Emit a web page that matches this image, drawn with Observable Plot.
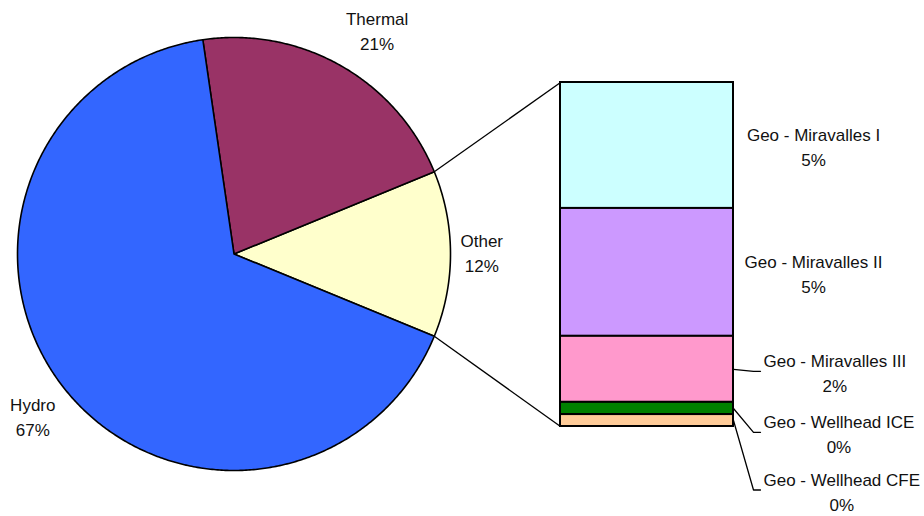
<!DOCTYPE html>
<html><head><meta charset="utf-8">
<script src="https://cdn.jsdelivr.net/npm/d3@7"></script>
<script src="https://cdn.jsdelivr.net/npm/@observablehq/plot@0.6"></script>
<style>html,body{margin:0;padding:0;background:#fff;}</style>
</head><body><div id="chart"></div>
<script>
// ---- data ----
const pieCategories = ["Thermal", "Hydro"];
const pieValues = [21.1, 66.5];
const otherLabel = "Other";
const geoCategories = ["Geo - Miravalles I", "Geo - Miravalles II", "Geo - Miravalles III", "Geo - Wellhead ICE", "Geo - Wellhead CFE"];
const geoValues = [4.54, 4.61, 2.38, 0.44, 0.43];
const pieColors = ["#FFFFCC", "#993366", "#3366FF"]; // Other, Thermal, Hydro
const geoColors = ["#CCFFFF", "#CC99FF", "#FF99CC", "#008000", "#FFCC99"];

// ---- layout ----
const W = 924, H = 516;
const cx = 233.5, cy = 253.5, R = 216.5;
const bar = {x1: 560, x2: 733, top: 82, bottom: 426};
const FONT_SIZE = 17;
const FONT_FAMILY = "'Liberation Sans', Arial, sans-serif";
const LINE_H = 25;

const ctx = document.createElement("canvas").getContext("2d");
ctx.font = `${FONT_SIZE}px ${FONT_FAMILY}`;
const tw = s => ctx.measureText(s).width;
const clamp = v => Math.max(-1, Math.min(1, v));
const rad = a => a * Math.PI / 180;
const px = (a, r) => cx + r * Math.cos(rad(a));
const py = (a, r) => cy - r * Math.sin(rad(a));

// ---- pie slices (counterclockwise from 3 o'clock, Other centred on the right) ----
const otherValue = d3.sum(geoValues);
const slices = [{name: otherLabel, value: otherValue},
  ...pieCategories.map((n, i) => ({name: n, value: pieValues[i]}))]
  .map((d, i) => ({...d, color: pieColors[i]}));
let a = -otherValue / 100 * 180;
for (const s of slices) { s.a0 = a; s.a1 = a + s.value * 3.6; a = s.a1; }

const pieRows = [];
for (const s of slices) {
  pieRows.push({name: s.name, color: s.color, x: cx, y: cy});
  const n = Math.ceil((s.a1 - s.a0) / 0.5);
  for (let k = 0; k <= n; k++) {
    const t = s.a0 + (s.a1 - s.a0) * k / n;
    pieRows.push({name: s.name, color: s.color, x: px(t, R), y: py(t, R)});
  }
}

const pieLabels = slices.map(s => {
  const m = (s.a0 + s.a1) / 2;
  const text = `${s.name}\n${Math.round(s.value)}%`;
  const w = Math.max(tw(s.name), tw(`${Math.round(s.value)}%`));
  const ax = px(m, R + 10), ay = py(m, R + 10);
  return {text,
    x: ax + w / 2 * clamp(2 * Math.cos(rad(m))),
    y: ay - LINE_H * clamp(2 * Math.sin(rad(m))) - 3};
});

// ---- stacked bar ----
const k = (bar.bottom - bar.top) / otherValue;
let yy = bar.top;
const geoRows = geoCategories.map((n, i) => {
  const r = {name: n, value: geoValues[i], color: geoColors[i], x1: bar.x1, x2: bar.x2, y1: yy, y2: yy + geoValues[i] * k};
  yy = r.y2;
  r.mid = (r.y1 + r.y2) / 2;
  return r;
});

const otherSlice = slices[0];
const connectors = [
  {x1: px(otherSlice.a1, R), y1: py(otherSlice.a1, R), x2: bar.x1, y2: bar.top},
  {x1: px(otherSlice.a0, R), y1: py(otherSlice.a0, R), x2: bar.x1, y2: bar.bottom}
];

const geoLabels = [], leaders = [];
let prev = -Infinity;
for (const r of geoRows) {
  const pct = `${Math.round(r.value)}%`;
  const text = `${r.name}\n${pct}`;
  if (r.value >= 3) {
    geoLabels.push({text, x: bar.x2 + 80, y: r.mid});
    prev = r.mid;
  } else {
    const y = Math.min(Math.max(r.mid + 2, prev + 61), H - LINE_H / 2 - 14);
    prev = y;
    const left = bar.x2 + 30;
    geoLabels.push({text, x: left + tw(r.name) / 2, y});
    leaders.push({name: r.name, x: bar.x2, y: r.mid});
    leaders.push({name: r.name, x: bar.x2 + 20, y});
    leaders.push({name: r.name, x: bar.x2 + 27, y});
  }
}

const chart = Plot.plot({
  width: W, height: H,
  marginTop: 0, marginRight: 0, marginBottom: 0, marginLeft: 0,
  x: {domain: [0, W], range: [0, W], axis: null},
  y: {domain: [0, H], range: [0, H], axis: null},
  color: {type: "identity"},
  style: {fontFamily: FONT_FAMILY, fontSize: FONT_SIZE + "px", background: "#fff"},
  marks: [
    Plot.line(pieRows, {x: "x", y: "y", z: "name", fill: "color", stroke: "#000", strokeWidth: 1.6, curve: "linear-closed", strokeLinejoin: "round"}),
    Plot.link(connectors, {x1: "x1", y1: "y1", x2: "x2", y2: "y2", stroke: "#000", strokeWidth: 1.3}),
    Plot.rect(geoRows, {x1: "x1", x2: "x2", y1: "y1", y2: "y2", fill: "color", stroke: "#000", strokeWidth: 2}),
    Plot.line(leaders, {x: "x", y: "y", z: "name", stroke: "#000", strokeWidth: 1.3}),
    Plot.text(pieLabels, {x: "x", y: "y", text: "text", lineAnchor: "middle", lineHeight: LINE_H / FONT_SIZE, fontSize: FONT_SIZE, fill: "#111"}),
    Plot.text(geoLabels, {x: "x", y: "y", text: "text", lineAnchor: "middle", lineHeight: LINE_H / FONT_SIZE, fontSize: FONT_SIZE, fill: "#111"})
  ]
});
document.getElementById("chart").appendChild(chart);
</script>
</body></html>
